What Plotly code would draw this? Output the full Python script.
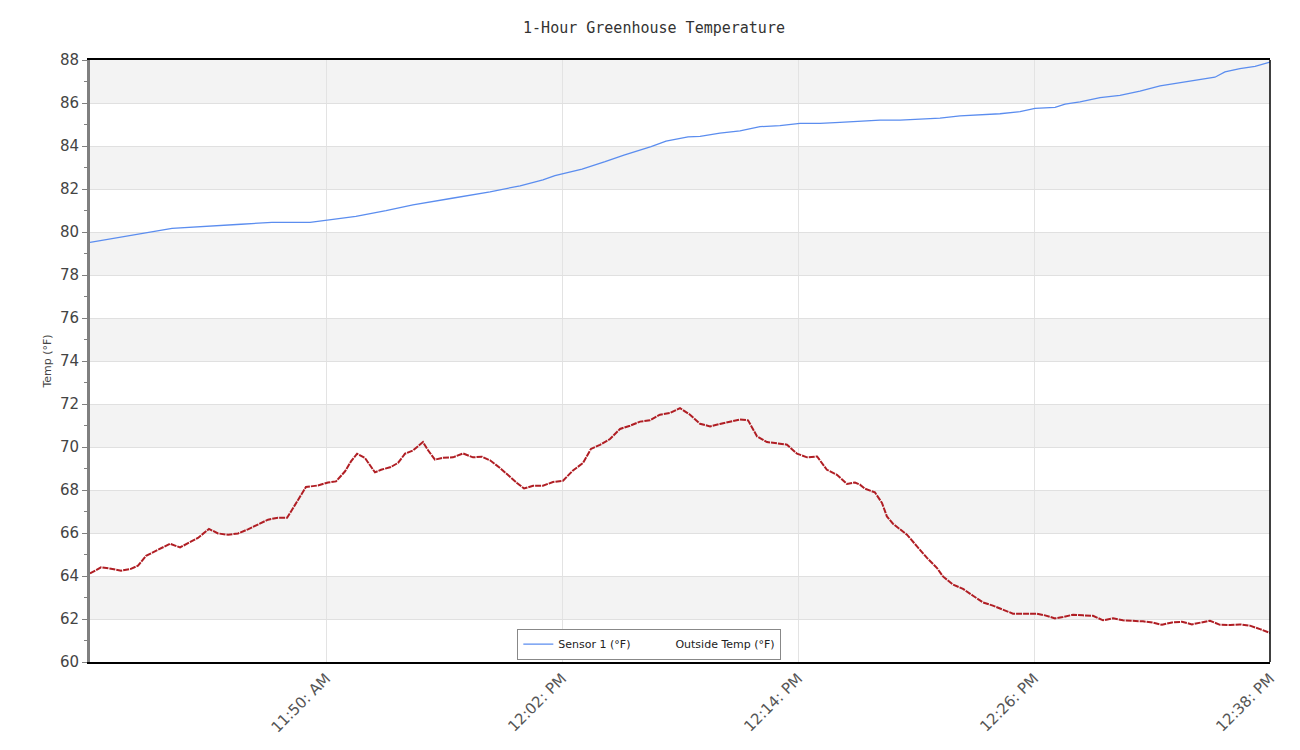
import pandas as pd
import plotly.graph_objects as go

# ---------------- data ----------------
start_time = "2024-01-01 11:38:00"
end_time = "2024-01-01 12:38:00"

# minutes after start, Sensor 1 (°F)
sensor_min = [0, 1.83, 4.17, 7.68, 9.25, 11.19, 11.95, 13.52, 15.05, 16.42, 18.41, 20.34,
              21.87, 23.03, 23.64, 25.02, 26.19, 27.15, 28.53, 29.29, 30.41, 31.02, 32.03,
              33.05, 34.07, 35.08, 36.10, 37.12, 38.13, 39.15, 40.17, 41.19, 42.20, 43.22,
              44.24, 45.25, 46.27, 47.29, 48.05, 49.07, 49.58, 50.34, 51.36, 52.37, 53.39,
              54.41, 55.42, 56.44, 57.20, 57.71, 58.47, 59.24, 60.0]
sensor_temp = [79.52, 79.81, 80.17, 80.36, 80.45, 80.45, 80.54, 80.73, 80.99, 81.26, 81.57, 81.87,
               82.15, 82.42, 82.62, 82.92, 83.27, 83.58, 83.97, 84.23, 84.42, 84.45, 84.6,
               84.7, 84.9, 84.95, 85.05, 85.05, 85.1, 85.15, 85.2, 85.2, 85.25, 85.3,
               85.4, 85.45, 85.5, 85.6, 85.75, 85.8, 85.95, 86.05, 86.25, 86.35, 86.55,
               86.8, 86.95, 87.1, 87.2, 87.45, 87.6, 87.7, 87.9]

# minutes after start, Outside Temp (°F)
outside_min = [0.0, 0.56, 1.07, 1.58, 2.08, 2.44, 2.85, 3.31, 3.61, 4.07, 4.58, 4.98, 5.49,
               6.05, 6.51, 7.02, 7.53, 8.03, 8.54, 9.05, 9.56, 10.02, 10.22, 10.58, 10.98,
               11.59, 12.10, 12.51, 12.97, 13.27, 13.58, 13.98, 14.49, 14.80, 15.30, 15.66,
               16.02, 16.42, 16.93, 17.19, 17.54, 17.95, 18.46, 18.97, 19.47, 19.93, 20.34,
               20.85, 21.36, 21.71, 22.07, 22.53, 23.03, 23.54, 24.05, 24.56, 25.07, 25.47,
               25.93, 26.44, 26.95, 27.46, 27.97, 28.47, 28.98, 29.49, 30.00, 30.51, 31.02,
               31.53, 32.03, 32.54, 33.05, 33.46, 33.92, 34.42, 34.93, 35.44, 35.95, 36.46,
               36.97, 37.47, 37.98, 38.49, 38.90, 39.15, 39.41, 39.91, 40.27, 40.52, 40.83,
               41.19, 41.54, 42.05, 42.56, 43.07, 43.37, 43.88, 44.39, 44.90, 45.41, 45.91,
               46.42, 46.93, 47.64, 48.15, 48.56, 49.07, 49.47, 49.98, 50.49, 51.0, 51.51,
               52.02, 52.52, 53.03, 53.54, 54.05, 54.51, 55.02, 55.52, 56.03, 56.54, 56.95,
               57.46, 57.97, 58.47, 58.98, 59.49, 60.0]
outside_temp = [64.12, 64.4, 64.34, 64.25, 64.33, 64.48, 64.94, 65.14, 65.3, 65.5, 65.33, 65.53, 65.77,
                66.19, 65.98, 65.92, 65.98, 66.17, 66.39, 66.62, 66.71, 66.71, 67.0, 67.55, 68.14,
                68.21, 68.35, 68.4, 68.87, 69.33, 69.69, 69.49, 68.82, 68.94, 69.07, 69.26,
                69.69, 69.84, 70.23, 69.85, 69.41, 69.5, 69.52, 69.7, 69.52, 69.55, 69.38,
                69.02, 68.6, 68.33, 68.07, 68.2, 68.2, 68.37, 68.43, 68.91, 69.26, 69.91,
                70.1, 70.37, 70.84, 70.99, 71.18, 71.24, 71.5, 71.58, 71.81, 71.5, 71.08,
                70.96, 71.07, 71.18, 71.28, 71.24, 70.49, 70.23, 70.17, 70.11, 69.69, 69.52,
                69.56, 68.94, 68.71, 68.28, 68.35, 68.25, 68.06, 67.89, 67.4, 66.77, 66.43,
                66.19, 65.92, 65.38, 64.84, 64.37, 63.98, 63.6, 63.4, 63.08, 62.77, 62.62,
                62.43, 62.25, 62.25, 62.25, 62.17, 62.03, 62.09, 62.2, 62.17, 62.15, 61.94,
                62.03, 61.94, 61.92, 61.89, 61.83, 61.73, 61.84, 61.87, 61.75, 61.84, 61.92,
                61.73, 61.72, 61.75, 61.69, 61.53, 61.35]

tick_times = ["2024-01-01 11:50:00", "2024-01-01 12:02:00", "2024-01-01 12:14:00",
              "2024-01-01 12:26:00", "2024-01-01 12:38:00"]
tick_labels = ["11:50: AM", "12:02: PM", "12:14: PM", "12:26: PM", "12:38: PM"]

y_min, y_max, y_step = 60, 88, 2
series_names = ["Sensor 1 (°F)", "Outside Temp (°F)"]
title_text = "1-Hour Greenhouse Temperature"
y_title = "Temp (°F)"

# ---------------- figure ----------------
base = pd.Timestamp(start_time)
sensor_x = [base + pd.Timedelta(minutes=m) for m in sensor_min]
outside_x = [base + pd.Timedelta(minutes=m) for m in outside_min]

fig = go.Figure()
fig.add_trace(go.Scatter(x=sensor_x, y=sensor_temp, mode="lines", name=series_names[0],
                         line=dict(color="#5b8def", width=1.3)))
fig.add_trace(go.Scatter(x=outside_x, y=outside_temp, mode="lines", name=series_names[1],
                         showlegend=False,
                         line=dict(color="#b01e24", width=2, dash="6px,1px")))
# legend entry without visible symbol (as in the reference)
fig.add_trace(go.Scatter(x=[None], y=[None], mode="lines", name=series_names[1],
                         line=dict(color="rgba(0,0,0,0)", width=1)))

# alternating horizontal bands
shapes = []
for lo in range(y_min, y_max, y_step):
    if ((lo - y_min) // y_step) % 2 == 1:
        shapes.append(dict(type="rect", xref="paper", yref="y", x0=0, x1=1, y0=lo, y1=lo + y_step,
                           fillcolor="#f3f3f3", line=dict(width=0), layer="below"))
# right border
shapes.append(dict(type="line", xref="paper", yref="paper", x0=1, x1=1, y0=0, y1=1,
                   line=dict(color="black", width=1.5)))

fig.update_layout(
    width=1292, height=742,
    margin=dict(l=82, r=30, t=52, b=88),
    paper_bgcolor="white", plot_bgcolor="white",
    title=dict(text=title_text, x=0.5, xanchor="center", y=0.974, yanchor="middle",
               font=dict(family="DejaVu Sans Mono", size=15, color="#333")),
    shapes=shapes,
    showlegend=True,
    legend=dict(orientation="h", x=0.474, xanchor="center", y=0.004, yanchor="bottom",
                bgcolor="white", bordercolor="#888", borderwidth=1,
                font=dict(family="DejaVu Sans", size=11, color="#222"),
                itemwidth=30, tracegroupgap=0),
)

fig.update_xaxes(
    type="date", range=[start_time, end_time],
    tickmode="array", tickvals=tick_times, ticktext=tick_labels, tickangle=-45,
    tickfont=dict(family="DejaVu Sans", size=15, color="#555"),
    showgrid=True, gridcolor="#e3e3e3", gridwidth=1,
    showline=True, linecolor="black", linewidth=1.5, mirror=True,
    ticks="", zeroline=False,
)
fig.update_yaxes(
    range=[y_min, y_max], tickmode="linear", tick0=y_min, dtick=y_step,
    tickfont=dict(family="DejaVu Sans", size=15, color="#444"),
    showgrid=True, gridcolor="#e0e0e0", gridwidth=1,
    showline=True, linecolor="#808080", linewidth=3,
    ticks="outside", ticklen=5, tickcolor="#808080",
    minor=dict(dtick=1, tick0=y_min, ticks="outside", ticklen=3, tickcolor="#808080", showgrid=False),
    title=dict(text=y_title, font=dict(family="DejaVu Sans", size=11, color="#444"), standoff=7),
    zeroline=False,
)

fig.write_html("out.html")
